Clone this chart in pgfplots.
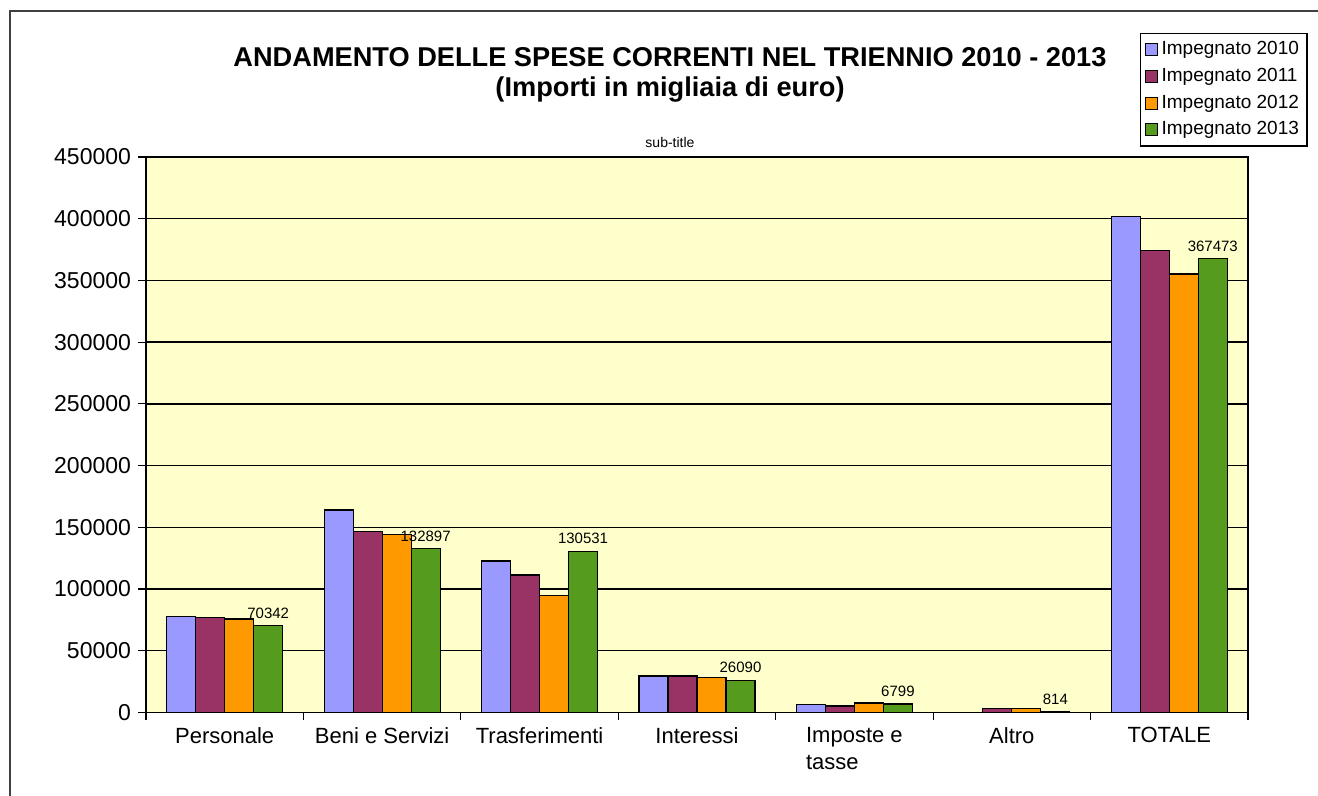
\documentclass[border=0pt]{standalone}
\usepackage{fontspec}
\setmainfont{Liberation Sans}
\usepackage{pgfplots}
\pgfplotsset{compat=1.18}
\definecolor{c10}{HTML}{9999FF}
\definecolor{c11}{HTML}{993366}
\definecolor{c12}{HTML}{FF9900}
\definecolor{c13}{HTML}{559B1E}
\definecolor{bgy}{HTML}{FFFFCC}
\begin{document}
\begin{tikzpicture}
\useasboundingbox (0,0) rectangle (659pt,398pt);
\fill[white] (0,0) rectangle (659pt,398pt);
\draw[line width=0.8pt,black!75] (5pt,0) -- (5pt,392.5pt) -- (659pt,392.5pt);
\node[font=\fontsize{13.6}{16}\selectfont\bfseries] at (335pt,369.5pt) {ANDAMENTO DELLE SPESE CORRENTI NEL TRIENNIO 2010 - 2013};
\node[font=\fontsize{13.6}{16}\selectfont\bfseries] at (335pt,353pt) {(Importi in migliaia di euro)};
\node[font=\fontsize{7}{8}\selectfont] at (335pt,326.5pt) {sub-title};
\begin{axis}[
  at={(73pt,41.75pt)}, anchor=south west,
  scale only axis, width=551pt, height=277.75pt,
  ybar=0pt, bar width=14.5pt,
  xmin=-0.5, xmax=6.5, ymin=0, ymax=450000,
  ytick={0,50000,...,450000},
  scaled y ticks=false,
  yticklabel style={font=\fontsize{11.5}{13}\selectfont, /pgf/number format/fixed, /pgf/number format/1000 sep={}, /pgf/number format/assume math mode=true},
  xtick={0,...,6},
  xticklabels={Personale,Beni e Servizi,Trasferimenti,Interessi,{Imposte e\\tasse},Altro,TOTALE},
  xticklabel style={font=\fontsize{11}{13.5}\selectfont, anchor=north, align=left},
  major x tick style={draw=none},
  minor xtick={-0.5,0.5,...,6.5},
  minor tick length=4pt, major tick length=4pt,
  tick align=outside,
  xtick pos=bottom, ytick pos=left,
  ymajorgrids, grid style={black, line width=0.7pt},
  axis line style={black, line width=0.8pt},
  tick style={black, line width=0.6pt},
  axis background/.style={fill=bgy},
  legend style={at={(0.902,1.223)}, anchor=north west, draw=black, line width=0.6pt,
    font=\fontsize{9.5}{11}\selectfont, row sep=1.2pt, inner sep=2pt,
    cells={anchor=west}},
  legend image code/.code={\draw[#1, line width=0.5pt] (0pt,-3pt) rectangle (6pt,3pt);},
  every axis plot/.append style={draw=black, line width=0.6pt},
  clip=false,
]
\addplot[fill=c10] coordinates {(0,77600) (1,164000) (2,122700) (3,29600) (4,6600) (5,0) (6,401700)};
\addplot[fill=c11] coordinates {(0,76800) (1,146500) (2,111300) (3,29600) (4,5300) (5,3400) (6,374100)};
\addplot[fill=c12] coordinates {(0,75800) (1,144300) (2,94600) (3,28300) (4,7700) (5,3400) (6,355200)};
\addplot[fill=c13, nodes near coords, every node near coord/.append style={font=\fontsize{7.5}{9}\selectfont, black, /pgf/number format/fixed, /pgf/number format/1000 sep={}, /pgf/number format/assume math mode=true}] coordinates {(0,70342) (1,132897) (2,130531) (3,26090) (4,6799) (5,814) (6,367473)};
\legend{Impegnato 2010,Impegnato 2011,Impegnato 2012,Impegnato 2013}
\end{axis}
\end{tikzpicture}
\end{document}
